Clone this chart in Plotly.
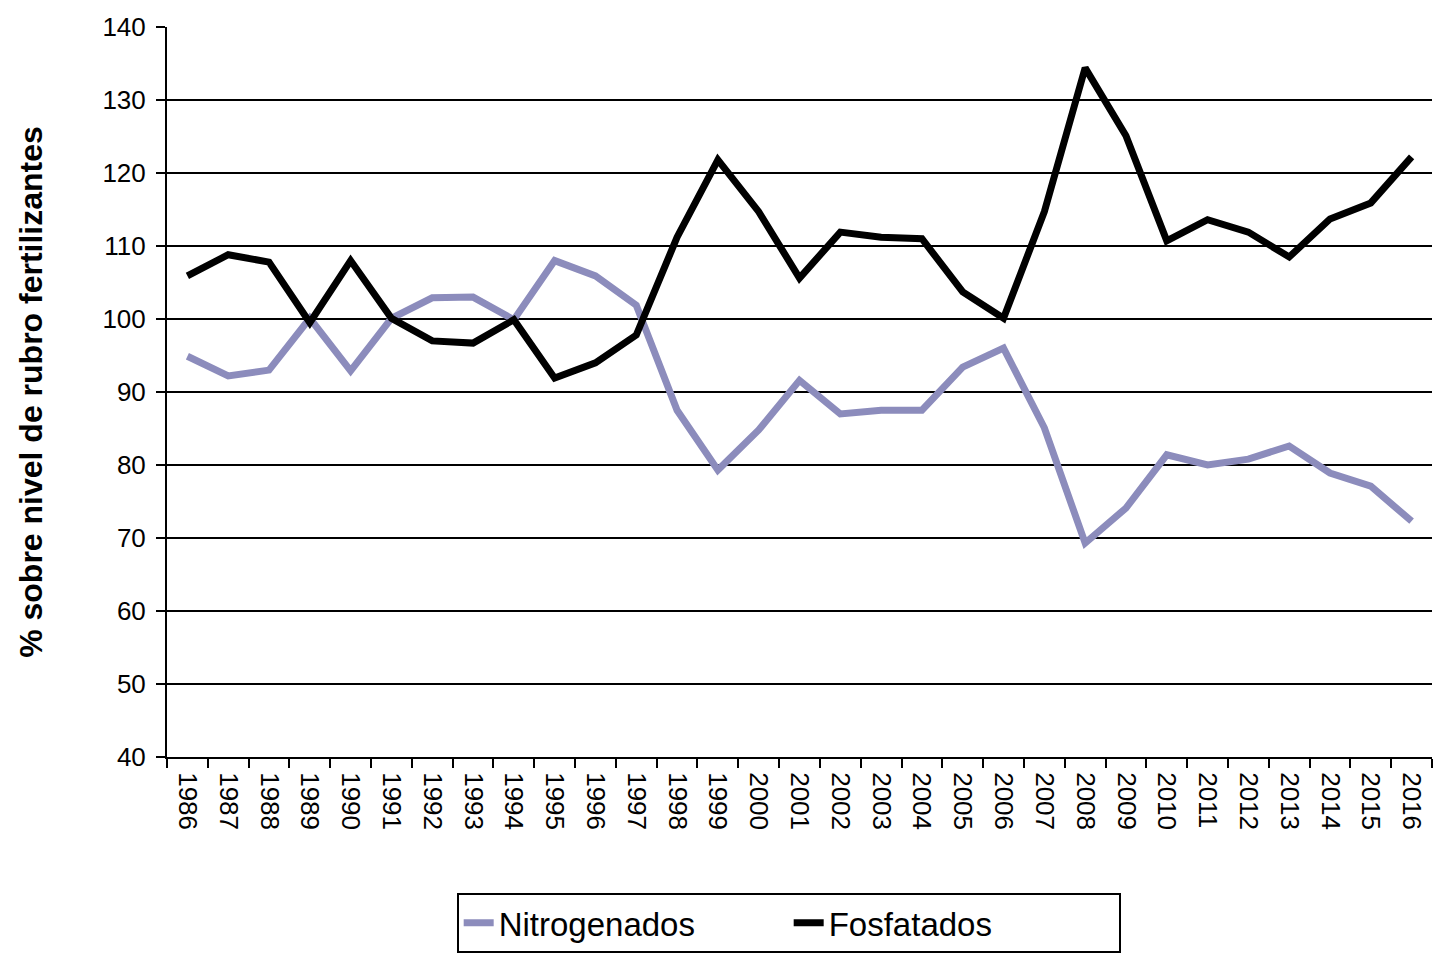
import plotly.graph_objects as go

years = [str(y) for y in range(1986, 2017)]
nitrogenados = [94.9, 92.2, 93.0, 100.1, 92.9, 100.1, 102.9, 103.0, 99.9, 108.0,
                105.9, 101.9, 87.5, 79.3, 84.8, 91.6, 87.0, 87.5, 87.5, 93.4,
                96.0, 85.1, 69.3, 74.1, 81.4, 80.0, 80.8, 82.6, 78.9, 77.1, 72.3]
fosfatados = [105.9, 108.8, 107.8, 99.5, 108.0, 100.1, 97.0, 96.7, 99.9, 91.9,
              94.0, 97.8, 111.2, 121.8, 114.7, 105.6, 111.9, 111.2, 111.0, 103.7,
              100.1, 114.7, 134.4, 125.1, 110.7, 113.6, 111.9, 108.5, 113.7, 115.9, 122.2]

fig = go.Figure()
fig.add_trace(go.Scatter(x=years, y=nitrogenados, mode="lines", name="Nitrogenados",
                         line=dict(color="#8C8CBC", width=7)))
fig.add_trace(go.Scatter(x=years, y=fosfatados, mode="lines", name="Fosfatados",
                         line=dict(color="#000000", width=7)))

font = "Liberation Sans, Arial, sans-serif"
fig.update_layout(
    width=1435, height=950,
    margin=dict(l=159, r=11, t=19, b=201, autoexpand=False),
    paper_bgcolor="white", plot_bgcolor="white",
    font=dict(family=font, color="black", size=24),
    showlegend=True,
    legend=dict(orientation="h", x=0.229, xanchor="left", y=-0.186, yanchor="top",
                bordercolor="black", borderwidth=2, font=dict(size=33),
                entrywidth=285, tracegroupgap=0),
    xaxis=dict(type="category", tickson="boundaries", ticks="outside", ticklen=9,
               tickwidth=2, tickcolor="black", showline=True, linecolor="black",
               linewidth=2, showgrid=False, tickangle=90, tickfont=dict(size=26),
               ticklabelstandoff=8, range=[-0.5, 30.5]),
    yaxis=dict(range=[40, 140], dtick=10, ticks="outside", ticklen=9, tickwidth=2,
               tickcolor="black", showline=True, linecolor="black", linewidth=2,
               showgrid=True, gridcolor="black", gridwidth=2, zeroline=False,
               tickfont=dict(size=26), ticklabelstandoff=5,
               title=dict(text="<b>% sobre nivel de rubro fertilizantes</b>",
                          font=dict(size=32), standoff=50)),
)

fig.write_html("out.html")
